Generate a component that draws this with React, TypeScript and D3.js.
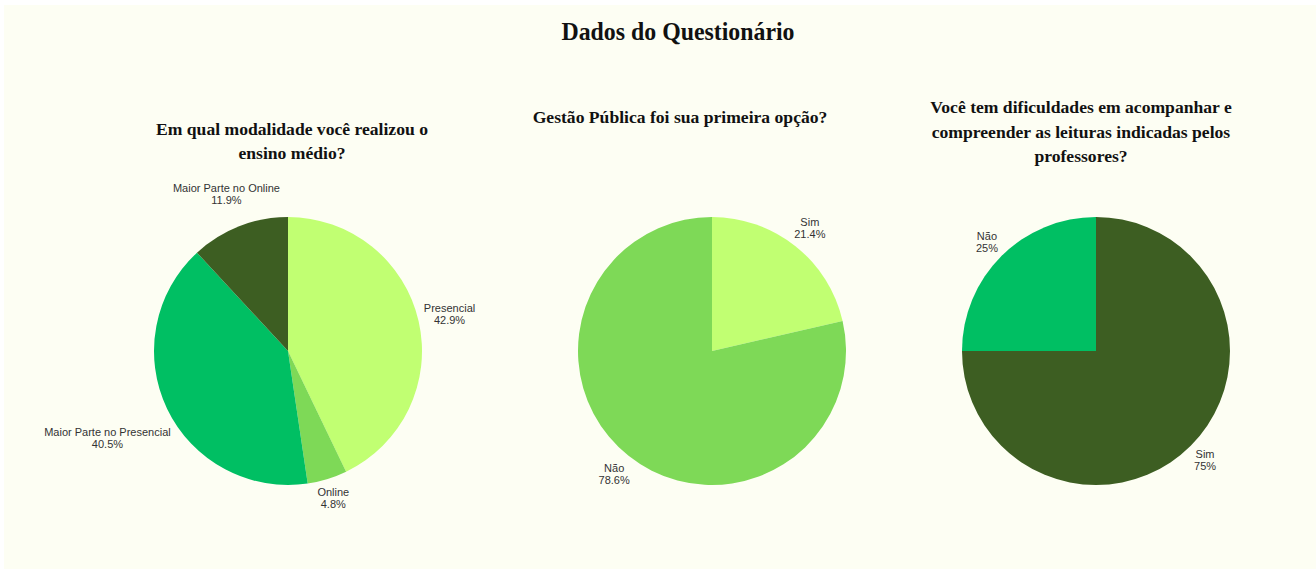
import React from "react";
import * as d3 from "d3";

const title = "Dados do Questionário";

const q1Lines = ["Em qual modalidade você realizou o", "ensino médio?"];
const q1Labels = ["Presencial", "Online", "Maior Parte no Presencial", "Maior Parte no Online"];
const q1Values = [42.9, 4.8, 40.5, 11.9];
const q1Colors = ["#c1ff72", "#7ed957", "#00bf63", "#3d5e22"];

const q2Lines = ["Gestão Pública foi sua primeira opção?"];
const q2Labels = ["Sim", "Não"];
const q2Values = [21.4, 78.6];
const q2Colors = ["#c1ff72", "#7ed957"];

const q3Lines = ["Você tem dificuldades em acompanhar e", "compreender as leituras indicadas pelos", "professores?"];
const q3Labels = ["Sim", "Não"];
const q3Values = [75, 25];
const q3Colors = ["#3d5e22", "#00bf63"];

const W = 1316;
const H = 569;
const R = 134;
const CY = 351;

let ctx: CanvasRenderingContext2D | null = null;
function measure(t: string, font: string) {
  if (!ctx) ctx = document.createElement("canvas").getContext("2d");
  if (!ctx) return t.length * 5.6;
  ctx.font = font;
  return ctx.measureText(t).width;
}

const LABEL_FONT = "11px 'Liberation Sans', Arial, sans-serif";

function Pie({ cx, labels, values, colors, fmt }: { cx: number; labels: string[]; values: number[]; colors: string[]; fmt: (v: number) => string }) {
  const data = labels.map((l, i) => ({ label: l, value: values[i], color: colors[i] }));
  const arcs = d3.pie<any>().value((d) => d.value).sort(null)(data);
  const arc = d3.arc<any>().innerRadius(0).outerRadius(R);
  return (
    <g transform={`translate(${cx},${CY})`}>
      {arcs.map((a, i) => (
        <path key={i} d={arc(a) as string} fill={a.data.color} />
      ))}
      {arcs.map((a, i) => {
        const m = (a.startAngle + a.endAngle) / 2;
        const s = Math.sin(m);
        const c = Math.cos(m);
        const l1 = a.data.label;
        const l2 = fmt(a.data.value);
        const hw = Math.max(measure(l1, LABEL_FONT), measure(l2, LABEL_FONT)) / 2;
        const hh = 12;
        const D = R + 4 + Math.abs(s) * hw + Math.abs(c) * hh;
        const x = D * s;
        const y = -D * c;
        return (
          <text key={"t" + i} x={x} y={y} textAnchor="middle" fontFamily="'Liberation Sans', Arial, sans-serif" fontSize={11} fill="#333">
            <tspan x={x} dy={-2}>{l1}</tspan>
            <tspan x={x} dy={12}>{l2}</tspan>
          </text>
        );
      })}
    </g>
  );
}

function Sub({ lines, cx, y0, lh }: { lines: string[]; cx: number; y0: number; lh: number }) {
  return (
    <text textAnchor="middle" fontFamily="'Liberation Serif', 'Times New Roman', serif" fontWeight="bold" fontSize={17.6} fill="#111">
      {lines.map((l, i) => (
        <tspan key={i} x={cx} y={y0 + i * lh}>{l}</tspan>
      ))}
    </text>
  );
}

export default function App() {
  const pct = (v: number) => `${v}%`;
  return (
    <svg width={W} height={H} style={{ position: "absolute", left: 0, top: 0, display: "block" }}>
      <rect x={0} y={0} width={W} height={H} fill="#ffffff" />
      <rect x={4} y={5} width={W - 4} height={H - 5} fill="#fdfef3" />
      <text x={678} y={40} textAnchor="middle" fontFamily="'Liberation Serif', 'Times New Roman', serif" fontWeight="bold" fontSize={25} fill="#111" textLength={233} lengthAdjust="spacingAndGlyphs">
        {title}
      </text>
      <Sub lines={q1Lines} cx={292} y0={135} lh={24} />
      <Sub lines={q2Lines} cx={680} y0={123} lh={24} />
      <Sub lines={q3Lines} cx={1081} y0={113} lh={24.5} />
      <Pie cx={288} labels={q1Labels} values={q1Values} colors={q1Colors} fmt={pct} />
      <Pie cx={712} labels={q2Labels} values={q2Values} colors={q2Colors} fmt={pct} />
      <Pie cx={1096} labels={q3Labels} values={q3Values} colors={q3Colors} fmt={pct} />
    </svg>
  );
}
